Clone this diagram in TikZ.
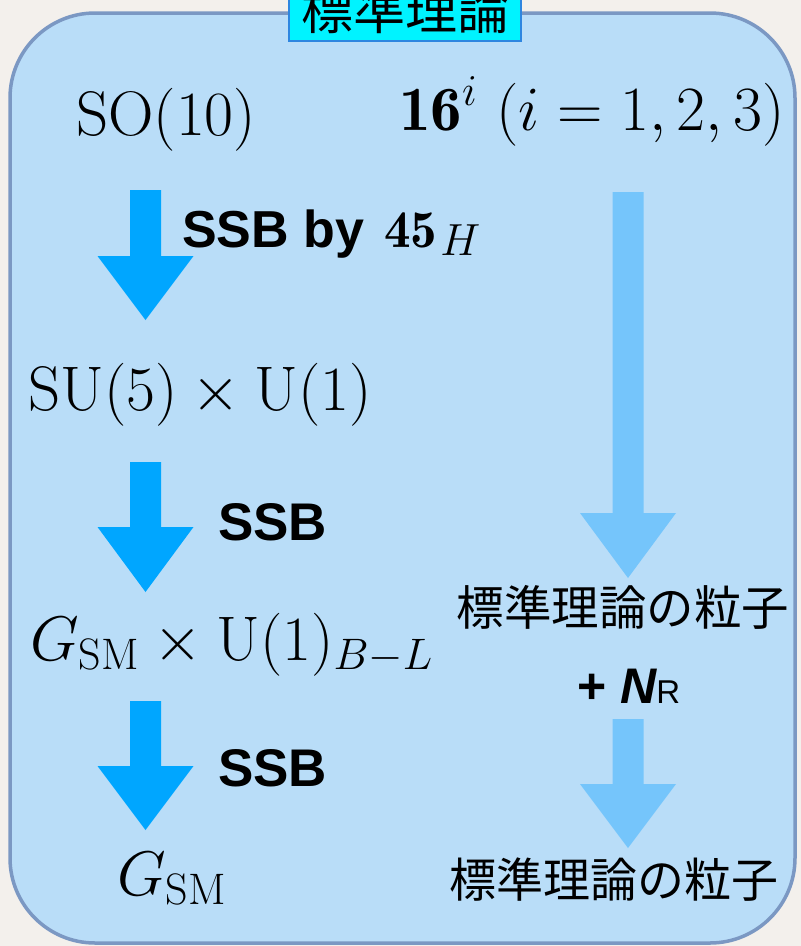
\RequirePackage{fix-cm}
\documentclass[tikz,border=0pt]{standalone}
\usepackage{fontspec}
\newfontfamily\cjk{Noto Sans CJK JP}
\newfontfamily\hv{Liberation Sans}
\definecolor{bgpaper}{HTML}{F3F0EC}
\definecolor{boxfill}{HTML}{B9DDF8}
\definecolor{boxline}{HTML}{7B98C3}
\definecolor{darkarrow}{HTML}{00A6FF}
\definecolor{lightarrow}{HTML}{75C5FB}
\definecolor{titlefill}{HTML}{00F3FF}
\definecolor{titleline}{HTML}{2E86E0}
\newcommand\blockarr[5]{%
  \fill[#5] ({#1-15.5},#2) -- ({#1+15.5},#2) -- ({#1+15.5},#3) -- ({#1+48},#3)
    -- (#1,#4) -- ({#1-48},#3) -- ({#1-15.5},#3) -- cycle;}
\tikzset{
  mathtxt/.style={inner sep=0pt, anchor=base west, font=\fontsize{63}{75}\selectfont},
  ssbtxt/.style={inner sep=0pt, anchor=base west, font=\fontsize{53}{60}\selectfont\hv\bfseries},
  cjktxt/.style={inner sep=0pt, font=\fontsize{47.5}{58}\selectfont\cjk},
}
\begin{document}
\begin{tikzpicture}[x=1pt,y=-1pt]
\useasboundingbox (0,0) rectangle (801,946);
\clip (0,0) rectangle (801,946);
\fill[bgpaper] (0,0) rectangle (801,946);
\draw[boxline, line width=3.5pt, fill=boxfill, rounded corners=85pt] (10,13) rectangle (795,943);
% title
\node[draw=titleline, line width=1.5pt, fill=titlefill, minimum width=232pt, minimum height=62pt,
      inner sep=0pt, font=\fontsize{52}{60}\selectfont\cjk] (title) at (405,10) {標準理論};
% left column
\node[mathtxt] (so10) at (76,135) {$\mathrm{SO}(10)$};
\node[mathtxt] (su5) at (28,410) {$\mathrm{SU}(5)\times\mathrm{U}(1)$};
\node[mathtxt] (gbl) at (30,660) {$G_{\mathrm{SM}}\times\mathrm{U}(1)_{B-L}$};
\node[mathtxt] (gsm) at (117,895) {$G_{\mathrm{SM}}$};
\blockarr{145.5}{190}{256}{320}{darkarrow}
\blockarr{145.5}{462}{527}{592}{darkarrow}
\blockarr{145.5}{701}{766}{830}{darkarrow}
\node[ssbtxt, font=\fontsize{52}{60}\selectfont\hv\bfseries] (ssb1) at (182,247)
  {SSB by\hspace{20pt}{\fontsize{53}{60}\selectfont$\mathbf{45}$}\hspace{3pt}\raisebox{-8pt}{\fontsize{45}{50}\selectfont$H$}};
\node[ssbtxt] (ssb2) at (218,540) {SSB};
\node[ssbtxt] (ssb3) at (218,786) {SSB};
% right column
\node[mathtxt] (sixteen) at (399,130) {$\mathbf{16}^i\ (i=1,2,3)$};
\blockarr{628}{192}{513}{578}{lightarrow}
\node[cjktxt] (sm1) at (623,607) {標準理論の粒子};
\node[inner sep=0pt, anchor=base west] (nr) at (577,703)
  {\hv\bfseries\fontsize{50}{54}\selectfont + \itshape N\upshape\mdseries\fontsize{33}{36}\selectfont R};
\blockarr{628}{719}{784}{848}{lightarrow}
\node[cjktxt, font=\fontsize{47}{56}\selectfont\cjk] (sm2) at (614,880) {標準理論の粒子};
\end{tikzpicture}
\end{document}
